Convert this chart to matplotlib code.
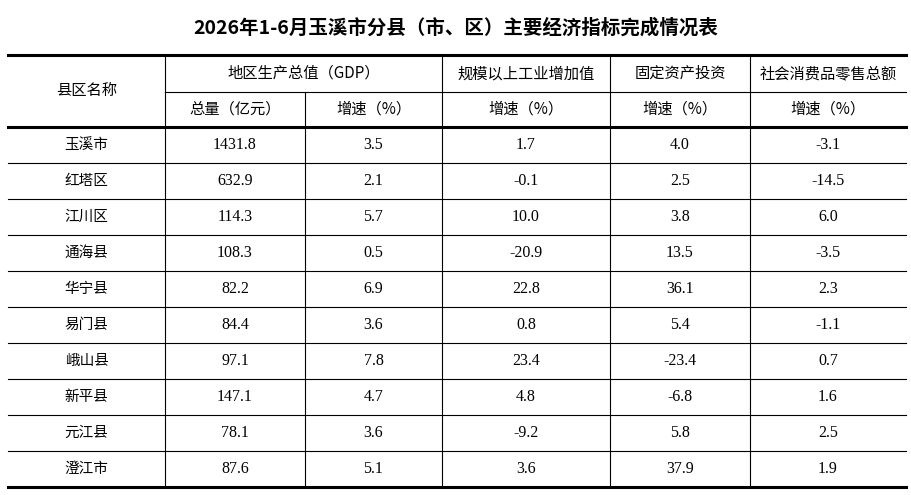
import matplotlib
matplotlib.use("Agg")
import matplotlib.pyplot as plt

title = "2026年1-6月玉溪市分县（市、区）主要经济指标完成情况表"
counties = ["玉溪市", "红塔区", "江川区", "通海县", "华宁县", "易门县", "峨山县", "新平县", "元江县", "澄江市"]
gdp_total = ["1431.8", "632.9", "114.3", "108.3", "82.2", "84.4", "97.1", "147.1", "78.1", "87.6"]
gdp_growth = ["3.5", "2.1", "5.7", "0.5", "6.9", "3.6", "7.8", "4.7", "3.6", "5.1"]
industry_growth = ["1.7", "-0.1", "10.0", "-20.9", "22.8", "0.8", "23.4", "4.8", "-9.2", "3.6"]
investment_growth = ["4.0", "2.5", "3.8", "13.5", "36.1", "5.4", "-23.4", "-6.8", "5.8", "37.9"]
retail_growth = ["-3.1", "-14.5", "6.0", "-3.5", "2.3", "-1.1", "0.7", "1.6", "2.5", "1.9"]
header1 = ["县区名称", "地区生产总值（GDP）", "规模以上工业增加值", "固定资产投资", "社会消费品零售总额"]
header2 = ["总量（亿元）", "增速（%）", "增速（%）", "增速（%）", "增速（%）"]

W, H = 912, 495
fig = plt.figure(figsize=(W/100, H/100), dpi=100)
ax = fig.add_axes([0, 0, 1, 1])
ax.set_xlim(0, W); ax.set_ylim(H, 0); ax.axis("off")

cjk = ["Noto Sans CJK SC", "DejaVu Sans"]
serif = ["Liberation Serif", "DejaVu Serif"]
xs = [8, 165, 305, 442, 610, 750, 906]
top, mid, hb = 55, 92, 127
rh = 36
bottom = hb + rh * len(counties)

ax.text(W/2, 28, title, ha="center", va="center", fontsize=14, fontweight="bold", family=cjk)

ax.plot([xs[0], xs[-1]], [top, top], color="black", lw=2.2)
ax.plot([xs[0], xs[-1]], [hb, hb], color="black", lw=2.2)
ax.plot([xs[0], xs[-1]], [bottom, bottom], color="black", lw=2.2)
ax.plot([xs[1], xs[-1]], [mid, mid], color="black", lw=0.8)
for i in range(1, len(counties)):
    y = hb + i * rh
    ax.plot([xs[0], xs[-1]], [y, y], color="black", lw=0.8)
for j, x in enumerate(xs[1:-1], start=1):
    y0 = top if j != 2 else mid
    ax.plot([x, x], [y0, bottom], color="black", lw=0.8)

def cx(j):
    return (xs[j] + xs[j+1]) / 2

ax.text(cx(0), (top+hb)/2, header1[0], ha="center", va="center", fontsize=11, family=cjk)
ax.text((xs[1]+xs[3])/2, (top+mid)/2, header1[1], ha="center", va="center", fontsize=11, family=cjk)
for k in range(2, 5):
    ax.text(cx(k+1), (top+mid)/2, header1[k], ha="center", va="center", fontsize=11, family=cjk)
for k in range(5):
    ax.text(cx(k+1), (mid+hb)/2, header2[k], ha="center", va="center", fontsize=11, family=cjk)

cols = [gdp_total, gdp_growth, industry_growth, investment_growth, retail_growth]
for i, name in enumerate(counties):
    yc = hb + i * rh + rh/2
    ax.text(cx(0), yc, name, ha="center", va="center", fontsize=10.5, family=cjk)
    for k, col in enumerate(cols):
        ax.text(cx(k+1), yc, col[i], ha="center", va="center", fontsize=11.5, family=serif)

fig.savefig("out.png", dpi=100, facecolor="white")
